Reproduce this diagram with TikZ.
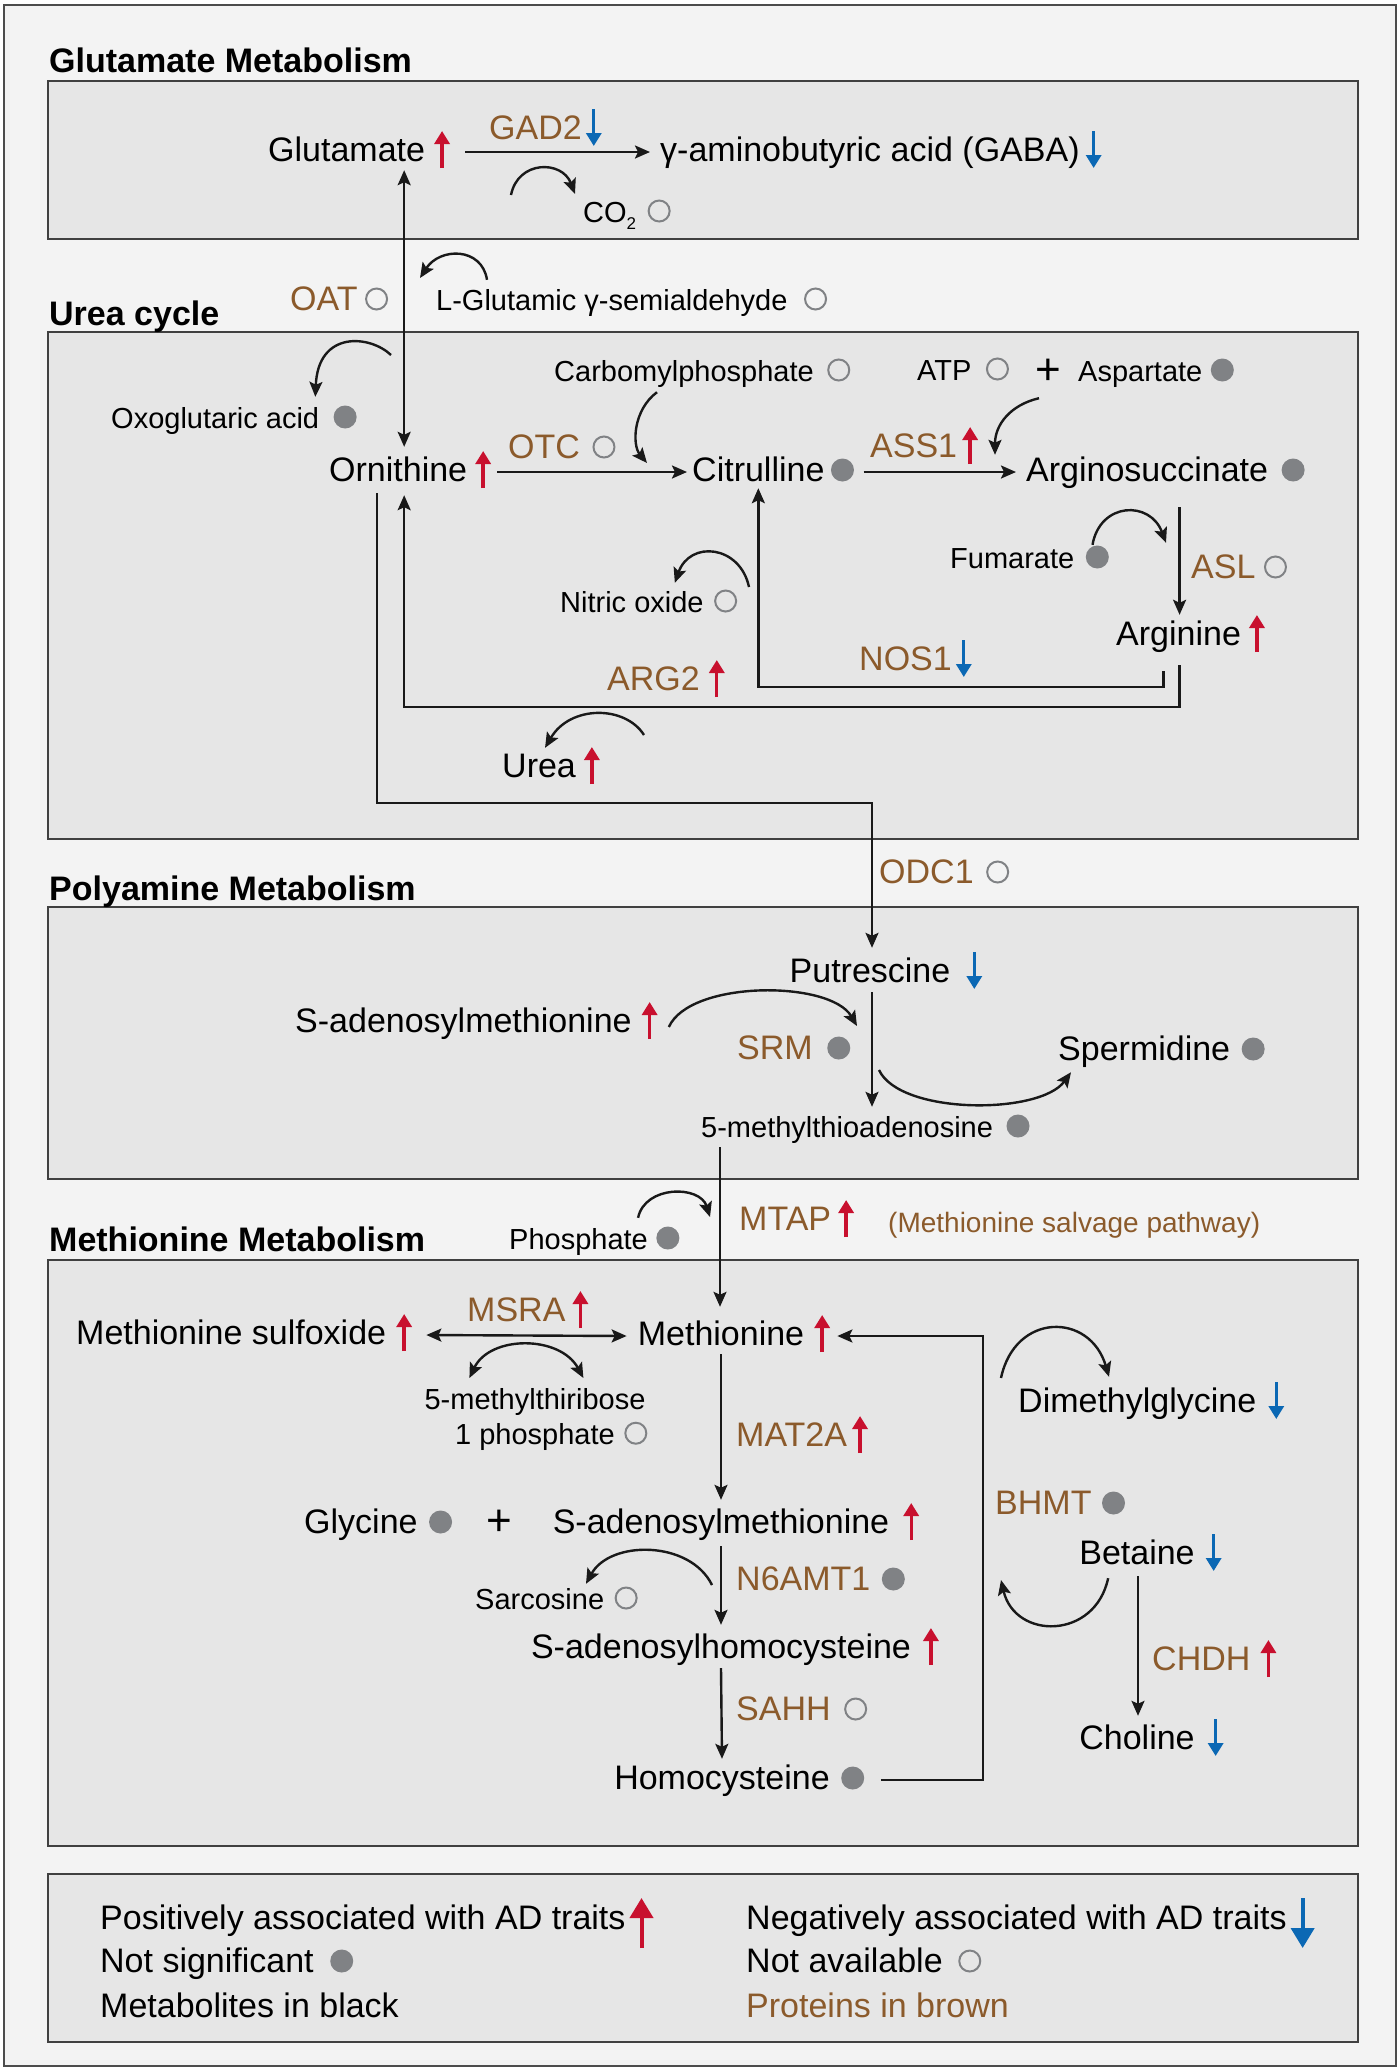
\documentclass[tikz,border=0pt]{standalone}
\usepackage{fontspec}
\setmainfont{Liberation Sans}
\usetikzlibrary{arrows.meta,calc}

\definecolor{pagebg}{HTML}{F3F3F3}
\definecolor{panelbg}{HTML}{E6E6E6}
\definecolor{protbrown}{HTML}{8B5A2B}
\definecolor{upred}{HTML}{C8102E}
\definecolor{dnblue}{HTML}{0B68B4}
\definecolor{nsgray}{HTML}{808285}

\tikzset{
  pathway/.style={
    x=1pt, y=-1pt,
    >={Stealth[length=15pt,width=13pt,inset=3pt]},
    panel/.style={draw=black!75, line width=1.6pt, fill=panelbg},
    conn/.style={line width=2.4pt, draw=black!90},
    met/.style={font=\fontsize{34}{40}\selectfont, inner sep=0pt, text height=25pt, text depth=7pt, anchor=base west},
    smet/.style={font=\fontsize{29}{34}\selectfont, inner sep=0pt, text height=21pt, text depth=6pt, anchor=base west},
    prot/.style={met, text=protbrown},
    heading/.style={font=\fontsize{34}{40}\selectfont\bfseries, inner sep=0pt, anchor=base west},
    plussign/.style={font=\fontsize{44}{44}\selectfont, inner sep=0pt}
  },
  sig/.style={line width=3.4pt, -{Triangle[length=13pt,width=15pt]}}
}
\newcommand{\posar}[1][17]{\tikz[baseline=0pt,overlay,x=1pt,y=1pt]\draw[sig,upred] (#1,-7) -- (#1,30);}
\newcommand{\negar}[1][17]{\tikz[baseline=0pt,overlay,x=1pt,y=1pt]\draw[sig,dnblue] (#1,30) -- (#1,-7);}
\newcommand{\nsdot}[1][22]{\tikz[baseline=0pt,overlay,x=1pt,y=1pt]\fill[nsgray] (#1,11) circle (11.5);}
\newcommand{\nadot}[1][22]{\tikz[baseline=0pt,overlay,x=1pt,y=1pt]\draw[nsgray,line width=2pt] (#1,11) circle (10.5);}

\begin{document}
\begin{tikzpicture}[pathway]
    \useasboundingbox (0,0) rectangle (1400,2070);
    \draw[fill=pagebg, draw=black!70, line width=2pt] (4,5) rectangle (1396,2066);

    \draw[panel] (48,81) rectangle (1358,239);
    \draw[panel] (48,332) rectangle (1358,839);
    \draw[panel] (48,907) rectangle (1358,1179);
    \draw[panel] (48,1260) rectangle (1358,1846);
    \draw[panel] (48,1874) rectangle (1358,2042);

    \node[heading] (tglu) at (49,72) {Glutamate Metabolism};
    \node[heading] (turea) at (49,325) {Urea cycle};
    \node[heading] (tpoly) at (49,900) {Polyamine Metabolism};
    \node[heading] (tmeth) at (49,1251) {Methionine Metabolism};

    \node[met] (glu) at (268,161) {Glutamate\posar};
    \node[prot] (gad2) at (489,139) {GAD2\negar[12]};
    \node[met] (gaba) at (660,161) {γ-aminobutyric acid (GABA)\negar[14]};
    \node[smet] (co2) at (583,222) {CO\raisebox{-7pt}{\fontsize{17}{17}\selectfont 2}\nadot[23]};

    \node[prot] (oat) at (290,310) {OAT\nadot[19]};
    \node[smet] (lgsa) at (436,310) {L-Glutamic γ-semialdehyde\nadot[28]};
    \node[smet] (oxo) at (111,428) {Oxoglutaric acid\nsdot[26]};
    \node[met] (orn) at (329,481) {Ornithine\posar[16]};
    \node[prot] (otc) at (508,458) {OTC\nadot[24]};
    \node[smet] (cp) at (554,381) {Carbomylphosphate\nadot[25]};
    \node[smet] (atp) at (917,380) {ATP\nadot[26]};
    \node[plussign] (plus1) at (1048,372) {+};
    \node[smet] (asp) at (1078,381) {Aspartate\nsdot[20]};
    \node[met] (cit) at (692,481) {Citrulline\nsdot[18]};
    \node[prot] (ass1) at (870,457) {ASS1\posar[13]};
    \node[met] (asuc) at (1026,481) {Arginosuccinate\nsdot[25]};
    \node[smet] (fum) at (950,568) {Fumarate\nsdot[23]};
    \node[prot] (asl) at (1191,578) {ASL\nadot[20]};
    \node[met] (arg) at (1116,645) {Arginine\posar[16]};
    \node[prot] (nos1) at (859,670) {NOS1\negar[12]};
    \node[smet] (no) at (560,612) {Nitric oxide\nadot[22]};
    \node[prot] (arg2) at (607,690) {ARG2\posar};
    \node[met] (urea) at (502,777) {Urea\posar[16]};

    \node[prot] (odc1) at (879,883) {ODC1\nadot[24]};
    \node[met,anchor=base] (put) at (870,982) {Putrescine\negar[24]};
    \node[met] (samp) at (295,1032) {S-adenosylmethionine\posar[18]};
    \node[prot] (srm) at (737,1059) {SRM\nsdot[26]};
    \node[met] (spd) at (1058,1060) {Spermidine\nsdot[23]};
    \node[smet] (mta) at (701,1137) {5-methylthioadenosine\nsdot[25]};

    \node[smet] (pi) at (509,1249) {Phosphate\nsdot[20]};
    \node[prot] (mtap) at (739,1230) {MTAP\posar[15]};
    \node[smet,font=\fontsize{28}{34}\selectfont,text=protbrown] (salv) at (888,1232) {(Methionine salvage pathway)};

    \node[met] (msulf) at (76,1344) {Methionine sulfoxide\posar[18]};
    \node[prot] (msra) at (467,1321) {MSRA\posar[15]};
    \node[met,anchor=base] (met) at (721,1345) {Methionine\posar[18]};
    \node[font=\fontsize{29}{35}\selectfont, inner sep=0pt, align=center, anchor=north] (mtr) at (535,1388) {5-methylthiribose\\1 phosphate\nadot[21]};
    \node[met] (gly) at (304,1533) {Glycine\nsdot[23]};
    \node[plussign] (plus2) at (499,1523) {+};
    \node[met,anchor=base] (sam) at (721,1533) {S-adenosylmethionine\posar[22]};
    \node[prot] (mat2a) at (736,1446) {MAT2A\posar[13]};
    \node[prot] (n6amt1) at (736,1590) {N6AMT1\nsdot[23]};
    \node[smet] (sar) at (475,1609) {Sarcosine\nadot[22]};
    \node[met,anchor=base] (sah) at (721,1658) {S-adenosylhomocysteine\posar[20]};
    \node[prot] (sahh) at (736,1720) {SAHH\nadot[25]};
    \node[met,anchor=base] (hcy) at (722,1789) {Homocysteine\nsdot[23]};
    \node[met] (dmg) at (1018,1412) {Dimethylglycine\negar[20]};
    \node[prot] (bhmt) at (995,1514) {BHMT\nsdot[22]};
    \node[met,anchor=base] (bet) at (1137,1564) {Betaine\negar[19]};
    \node[prot] (chdh) at (1152,1670) {CHDH\posar[18]};
    \node[met,anchor=base] (cho) at (1137,1749) {Choline\negar[21]};

    \node[met] (lpos) at (100,1929) {Positively associated with AD traits\tikz[baseline=0pt,overlay,x=1pt,y=1pt]\draw[upred,line width=4pt,-{Triangle[length=20pt,width=23pt]}] (16,-19) -- (16,31);};
    \node[met] (lns) at (100,1972) {Not significant\nsdot[28]};
    \node[met] (lmet) at (100,2017) {Metabolites in black};
    \node[met] (lneg) at (746,1929) {Negatively associated with AD traits\tikz[baseline=0pt,overlay,x=1pt,y=1pt]\draw[dnblue,line width=4pt,-{Triangle[length=20pt,width=23pt]}] (16,31) -- (16,-19);};
    \node[met] (lna) at (746,1972) {Not available\nadot[27]};
    \node[prot] (lprot) at (746,2017) {Proteins in brown};

    \draw[conn,->] ($(glu.east)+(40,0)$) -- ($(gaba.west)+(-10,0)$);
    \draw[conn,->] (511,195) .. controls (518,160) and (562,160) .. ($(co2.north west)+(-8,-7)$);
    \draw[conn,<->] ($(orn.north |- glu.south)+(6,2)$) -- ($(orn.north)+(6,-9)$);
    \draw[conn,->] ($(lgsa.north west)+(51,-9)$) .. controls (482,247) and (440,247) .. (420,278);

    \draw[conn,->] (391,355) .. controls (370,335) and (318,330) .. ($(oxo.north east)+(-4,-10)$);
    \draw[conn,->] ($(orn.east)+(30,0)$) -- ($(cit.west)+(-5,0)$);
    \draw[conn,->] ($(cp.south west)+(103,5)$) .. controls (633,410) and (632,445) .. ($(cit.west)+(-45,-9)$);
    \draw[conn,->] ($(cit.east)+(39,0)$) -- ($(asuc.west)+(-10,0)$);
    \draw[conn,->] ($(asp.south west)+(-39,11)$) .. controls (1010,405) and (995,425) .. ($(asuc.north west)+(-31,-1)$);
    \draw[conn,->] ($(arg.north |- asuc.south)+(1,19)$) -- ($(arg.north)+(1,-5)$);
    \draw[conn,->] ($(fum.north east)+(18,-2)$) .. controls (1100,502) and (1150,500) .. ($(asl.north west)+(-25,-10)$);
    \draw[conn,->] ($(arg.south)+(-15,19)$) -- ++(0,16) -| (cit.south);
    \draw[conn,->] (749,587) .. controls (740,545) and (690,540) .. ($(no.north east)+(-29,-8)$);
    \draw[conn,->] ($(arg.south)+(1,13)$) -- ++(0,42) -| ($(orn.south)+(6,7)$);
    \draw[conn,->] (644,735) .. controls (625,705) and (570,705) .. ($(urea.north)+(6,-4)$);
    \draw[conn,->] ($(orn.south)+(-21,5)$) -- ++(0,310) -| ($(put.north)+(2,-9)$);

    \draw[conn,->] ($(put.south)+(2,3)$) -- ($(put.south |- mta.north)+(2,-9)$);
    \draw[conn,->] ($(samp.east)+(37,4)$) .. controls (690,980) and (830,980) .. (857,1026);
    \draw[conn,->] (879,1070) .. controls (900,1115) and (1040,1115) .. ($(spd.south west)+(13,5)$);

    \draw[conn,->] ($(met.north |- mta.south)+(-1,4)$) -- ($(met.north)+(-1,-13)$);
    \draw[conn,->] ($(pi.north east)+(-10,-10)$) .. controls (645,1185) and (700,1185) .. (710,1217);

    \draw[conn,<->] ($(msulf.east)+(40,0)$) -- ($(met.west)+(-11,0)$);
    \draw[conn,<->] ($(mtr.north west)+(45,-10)$) .. controls (490,1335) and (560,1335) .. ($(mtr.north west)+(159,-10)$);
    \draw[conn,->] ($(met.south)+(0,2)$) -- ($(sam.north)+(0,-8)$);
    \draw[conn,->] ($(sam.south)+(0,6)$) -- ($(sah.north)+(0,-8)$);
    \draw[conn,->] (712,1585) .. controls (690,1540) and (610,1540) .. ($(sar.north west)+(111,-4)$);
    \draw[conn,->] ($(sah.south)+(0,3)$) -- ($(hcy.north)+(0,-5)$);
    \draw[conn,->] ($(hcy.east)+(51,0)$) -- ++(102,0) |- ($(met.east)+(33,0)$);
    \draw[conn,->] (1001,1378) .. controls (1015,1312) and (1090,1312) .. ($(dmg.north west)+(91,-10)$);
    \draw[conn,->] ($(bet.south west)+(29,7)$) .. controls (1095,1640) and (1015,1640) .. (1001,1580);
    \draw[conn,->] ($(bet.south)+(1,5)$) -- ($(cho.north)+(1,-8)$);

\end{tikzpicture}
\end{document}
